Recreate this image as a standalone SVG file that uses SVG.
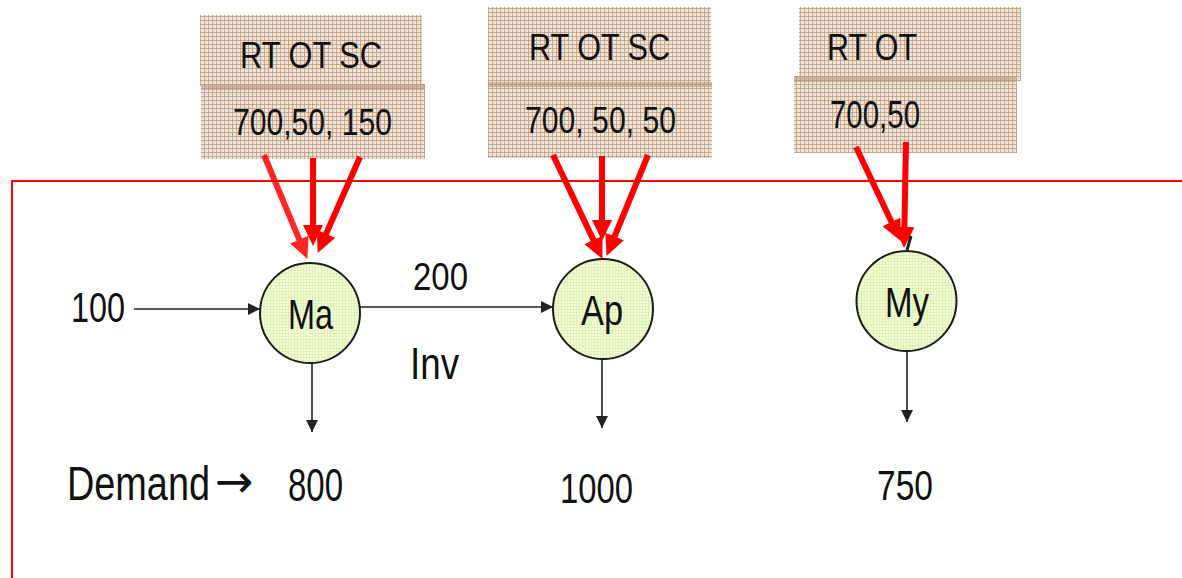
<svg xmlns="http://www.w3.org/2000/svg" width="1182" height="578" viewBox="0 0 1182 578">
  <defs>
    <pattern id="weave" width="4" height="4" patternUnits="userSpaceOnUse">
      <rect width="4" height="4" fill="#eee4d8"/>
      <rect width="4" height="1" fill="#b9977a" opacity="0.75"/>
      <rect width="1" height="4" fill="#b9977a" opacity="0.75"/>
    </pattern>
    <pattern id="grain" width="3" height="3" patternUnits="userSpaceOnUse">
      <rect width="3" height="3" fill="#f2fcd6"/>
      <rect width="3" height="1" fill="#dcf0b0" opacity="0.8"/>
      <rect width="1" height="3" fill="#dcf0b0" opacity="0.8"/>
    </pattern>
    <marker id="redHead" markerUnits="userSpaceOnUse" markerWidth="24" markerHeight="22" refX="6" refY="10" orient="auto">
      <path d="M0,0 L21,10 L0,20 z" fill="#ff0000"/>
    </marker>
    <marker id="blackHead" markerUnits="userSpaceOnUse" markerWidth="14" markerHeight="14" refX="12" refY="6" orient="auto">
      <path d="M0,0 L12,6 L0,12 z" fill="#222"/>
    </marker>
  </defs>
  <style>
    .box { fill: url(#weave); }
    .band { fill: #b8967a; opacity: 0.55; }
    .node { fill: url(#grain); stroke: #1c1c1c; stroke-width: 2; }
    .t { font-family: "Liberation Sans", Arial, sans-serif; fill: #111; }
    .red { stroke: #ff0000; stroke-width: 6; fill: none; marker-end: url(#redHead); }
    .blk { stroke: #222; stroke-width: 1.6; fill: none; marker-end: url(#blackHead); }
    .frame { stroke: #ff0000; stroke-width: 2; fill: none; }
  </style>

  <rect width="1182" height="578" fill="#ffffff"/>

  <path class="frame" d="M1182,181 H12 V578"/>

  <g id="box-ma">
    <rect class="box" x="200" y="15" width="222" height="71"/>
    <rect class="box" x="201" y="84" width="224" height="75"/>
    <rect class="band" x="201" y="84" width="224" height="6"/>
    <text class="t" x="240" y="68" font-size="36" textLength="142" lengthAdjust="spacingAndGlyphs">RT OT SC</text>
    <text class="t" x="233" y="135" font-size="36" textLength="159" lengthAdjust="spacingAndGlyphs">700,50, 150</text>
  </g>

  <g id="box-ap">
    <rect class="box" x="488" y="7" width="223" height="77"/>
    <rect class="box" x="488" y="82" width="224" height="76"/>
    <rect class="band" x="488" y="82" width="224" height="5"/>
    <text class="t" x="529" y="60" font-size="37" textLength="141" lengthAdjust="spacingAndGlyphs">RT OT SC</text>
    <text class="t" x="525" y="133" font-size="36" textLength="151" lengthAdjust="spacingAndGlyphs">700, 50, 50</text>
  </g>

  <g id="box-my">
    <rect class="box" x="799" y="7" width="222" height="74"/>
    <rect class="box" x="794" y="76" width="223" height="77"/>
    <rect class="band" x="794" y="76" width="223" height="6"/>
    <text class="t" x="827" y="60" font-size="37" textLength="90" lengthAdjust="spacingAndGlyphs">RT OT</text>
    <text class="t" x="830" y="128" font-size="38" textLength="90" lengthAdjust="spacingAndGlyphs">700,50</text>
  </g>

  <g id="connectors">
    <line class="red" x1="264" y1="155" x2="301.6" y2="245.1" opacity="0.85"/>
    <line class="red" x1="313" y1="158" x2="313" y2="231"/>
    <line class="red" x1="360" y1="157" x2="323.7" y2="239.2"/>

    <line class="red" x1="553" y1="155" x2="596" y2="245.4"/>
    <line class="red" x1="602" y1="156" x2="602" y2="226"/>
    <line class="red" x1="648" y1="155" x2="612.3" y2="242"/>

    <line class="red" x1="856" y1="147" x2="894" y2="227.3"/>
    <line class="red" x1="906" y1="142" x2="904.3" y2="233"/>
    <line x1="911" y1="236" x2="907" y2="250" stroke="#222" stroke-width="3"/>

    <line class="blk" x1="134" y1="309" x2="260" y2="309"/>
    <line class="blk" x1="360" y1="307" x2="553" y2="307"/>
    <line class="blk" x1="312" y1="363" x2="312" y2="432"/>
    <line class="blk" x1="602" y1="359" x2="602" y2="428"/>
    <line class="blk" x1="907" y1="351" x2="907" y2="422"/>
  </g>

  <g id="node-ma">
    <circle class="node" cx="310" cy="313" r="50"/>
    <text class="t" x="288" y="329" font-size="43" textLength="45" lengthAdjust="spacingAndGlyphs">Ma</text>
  </g>
  <g id="node-ap">
    <circle class="node" cx="603" cy="309" r="50"/>
    <text class="t" x="581" y="325" font-size="42" textLength="42" lengthAdjust="spacingAndGlyphs">Ap</text>
  </g>
  <g id="node-my">
    <circle class="node" cx="906.5" cy="301" r="50"/>
    <text class="t" x="885" y="317" font-size="42" textLength="44" lengthAdjust="spacingAndGlyphs">My</text>
  </g>

  <g id="labels">
    <text class="t" x="71" y="322" font-size="43" textLength="54" lengthAdjust="spacingAndGlyphs">100</text>
    <text class="t" x="413" y="290" font-size="39" textLength="55" lengthAdjust="spacingAndGlyphs">200</text>
    <text class="t" x="410" y="379" font-size="45" textLength="49" lengthAdjust="spacingAndGlyphs">Inv</text>
    <text class="t" y="500" font-size="48"><tspan x="67" textLength="143" lengthAdjust="spacingAndGlyphs">Demand</tspan><tspan x="215" y="497" font-family="'DejaVu Sans', sans-serif" font-size="46">→</tspan></text>
    <text class="t" x="288" y="501" font-size="46" textLength="55" lengthAdjust="spacingAndGlyphs">800</text>
    <text class="t" x="560" y="503" font-size="43" textLength="73" lengthAdjust="spacingAndGlyphs">1000</text>
    <text class="t" x="877" y="500" font-size="42" textLength="56" lengthAdjust="spacingAndGlyphs">750</text>
  </g>
</svg>
